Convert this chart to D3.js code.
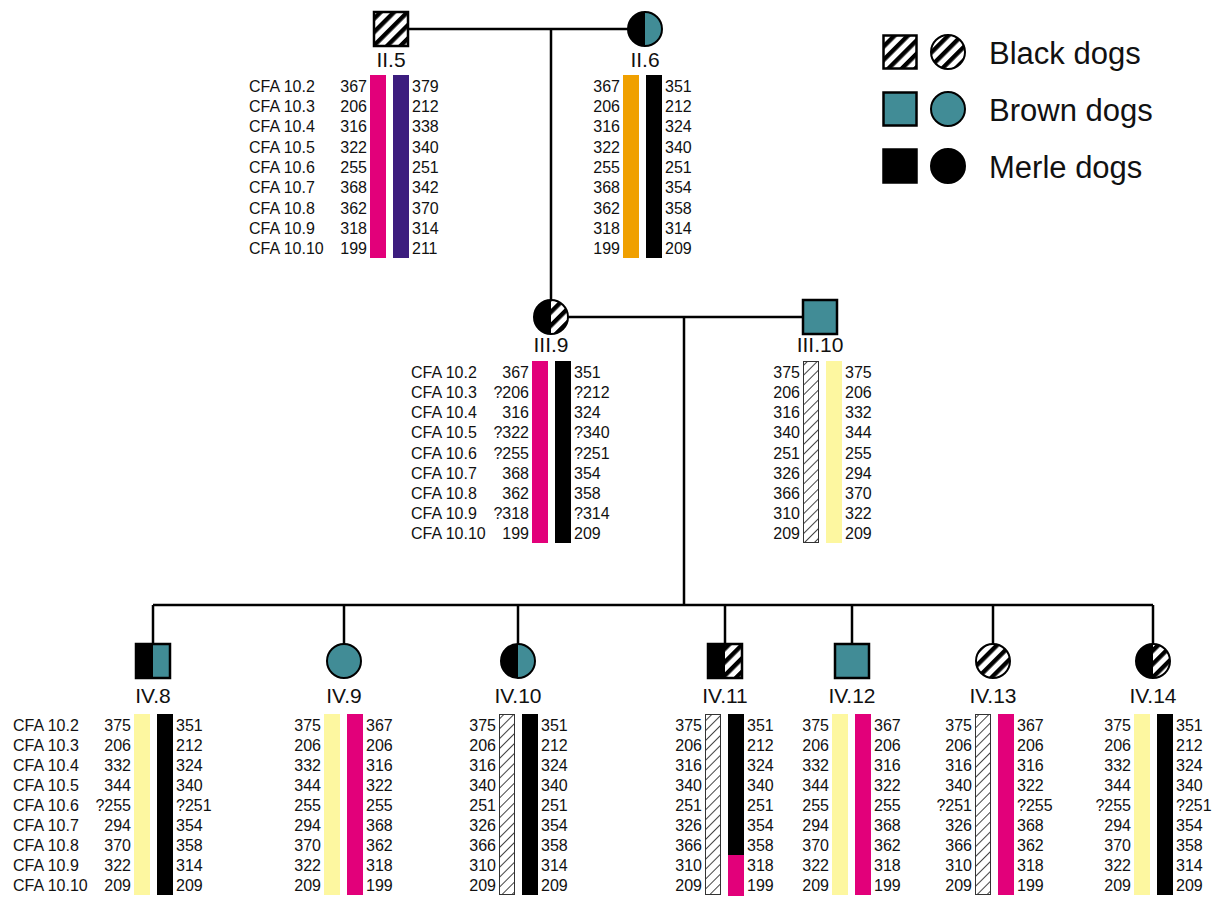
<!DOCTYPE html>
<html>
<head>
<meta charset="utf-8">
<script src="https://cdn.jsdelivr.net/npm/d3@7"></script>
<style>
  body { margin: 0; background: #fff; }
  text { font-family: Arial, "Liberation Sans", sans-serif; fill: #111; }
</style>
</head>
<body>
<script>
//------------------------------------- data -------------------------------------

var markers = ["CFA 10.2", "CFA 10.3", "CFA 10.4", "CFA 10.5", "CFA 10.6",
               "CFA 10.7", "CFA 10.8", "CFA 10.9", "CFA 10.10"];

var dogIds    = ["II.5", "II.6", "III.9", "III.10", "IV.8", "IV.9", "IV.10", "IV.11", "IV.12", "IV.13", "IV.14"];
var sexes     = ["m", "f", "f", "m", "m", "f", "f", "m", "m", "f", "f"];
var leftHalf  = ["hatch", "black", "black", "teal", "black", "teal", "black", "black", "teal", "hatch", "black"];
var rightHalf = ["hatch", "teal", "hatch", "teal", "teal", "teal", "teal", "hatch", "teal", "hatch", "hatch"];

// dogs that show the marker names on their left
var markerLabelDogs = ["II.5", "III.9", "IV.8"];

var leftAlleles = [
  ["367", "206", "316", "322", "255", "368", "362", "318", "199"],
  ["367", "206", "316", "322", "255", "368", "362", "318", "199"],
  ["367", "?206", "316", "?322", "?255", "368", "362", "?318", "199"],
  ["375", "206", "316", "340", "251", "326", "366", "310", "209"],
  ["375", "206", "332", "344", "?255", "294", "370", "322", "209"],
  ["375", "206", "332", "344", "255", "294", "370", "322", "209"],
  ["375", "206", "316", "340", "251", "326", "366", "310", "209"],
  ["375", "206", "316", "340", "251", "326", "366", "310", "209"],
  ["375", "206", "332", "344", "255", "294", "370", "322", "209"],
  ["375", "206", "316", "340", "?251", "326", "366", "310", "209"],
  ["375", "206", "332", "344", "?255", "294", "370", "322", "209"]
];
var rightAlleles = [
  ["379", "212", "338", "340", "251", "342", "370", "314", "211"],
  ["351", "212", "324", "340", "251", "354", "358", "314", "209"],
  ["351", "?212", "324", "?340", "?251", "354", "358", "?314", "209"],
  ["375", "206", "332", "344", "255", "294", "370", "322", "209"],
  ["351", "212", "324", "340", "?251", "354", "358", "314", "209"],
  ["367", "206", "316", "322", "255", "368", "362", "318", "199"],
  ["351", "212", "324", "340", "251", "354", "358", "314", "209"],
  ["351", "212", "324", "340", "251", "354", "358", "318", "199"],
  ["367", "206", "316", "322", "255", "368", "362", "318", "199"],
  ["367", "206", "316", "322", "?255", "368", "362", "318", "199"],
  ["351", "212", "324", "340", "?251", "354", "358", "314", "209"]
];

// haplotype origin of each bar (one per row when it changes along the bar)
var leftSource  = ["pink", "orange", "pink", "hatch", "yellow", "yellow", "hatch", "hatch", "yellow", "hatch", "yellow"];
var rightSource = ["purple", "black", "black", "yellow", "black", "pink", "black",
                   ["black", "black", "black", "black", "black", "black", "black", "pink", "pink"],
                   "pink", "pink", "black"];

var legendLabels = ["Black dogs", "Brown dogs", "Merle dogs"];
var legendFills  = ["hatch", "teal", "black"];

//------------------------------------- layout / style ---------------------------

var layout = {
  "II.5":  {x: 391,  gen: "II",  bar: 370},
  "II.6":  {x: 645,  gen: "II",  bar: 623},
  "III.9": {x: 551,  gen: "III", bar: 532},
  "III.10":{x: 820,  gen: "III", bar: 803},
  "IV.8":  {x: 153,  gen: "IV",  bar: 134},
  "IV.9":  {x: 344,  gen: "IV",  bar: 324},
  "IV.10": {x: 518,  gen: "IV",  bar: 499},
  "IV.11": {x: 725,  gen: "IV",  bar: 705},
  "IV.12": {x: 852,  gen: "IV",  bar: 832},
  "IV.13": {x: 993,  gen: "IV",  bar: 975},
  "IV.14": {x: 1153, gen: "IV",  bar: 1134}
};
var gens = {
  "II":  {y: 29,  label: 67,  rows: [75, 258]},
  "III": {y: 317, label: 352, rows: [361, 543]},
  "IV":  {y: 661, label: 703, rows: [714, 895]}
};

var colors = {
  pink: "#e2007a", purple: "#3c1d7e", orange: "#f0a000", black: "#000",
  yellow: "#fdf7a0", teal: "#418c96"
};

var half = 17, barW = 16, barGap = 7;

//------------------------------------- svg --------------------------------------

var svg = d3.select("body")
  .append("svg")
  .attr("width", 1218)
  .attr("height", 900);

var defs = svg.append("defs");

var ph = defs.append("pattern")
  .attr("id", "symHatch")
  .attr("patternUnits", "userSpaceOnUse")
  .attr("width", 9.5).attr("height", 9.5)
  .attr("patternTransform", "rotate(45)");
ph.append("rect").attr("width", 9.5).attr("height", 9.5).attr("fill", "#fff");
ph.append("rect").attr("width", 4.4).attr("height", 9.5).attr("fill", "#000");

var pb = defs.append("pattern")
  .attr("id", "barHatch")
  .attr("patternUnits", "userSpaceOnUse")
  .attr("width", 7).attr("height", 7)
  .attr("patternTransform", "rotate(45)");
pb.append("rect").attr("width", 7).attr("height", 7).attr("fill", "#fff");
pb.append("rect").attr("width", 1).attr("height", 7).attr("fill", "#444");

function fillOf(k, bar) {
  if (k === "hatch") return bar ? "url(#barHatch)" : "url(#symHatch)";
  return colors[k];
}

//------------------------------------- lines ------------------------------------

var lines = svg.append("g")
  .attr("stroke", "#000")
  .attr("stroke-width", 2.5)
  .attr("fill", "none");

function P(id) { return {x: layout[id].x, y: gens[layout[id].gen].y}; }

// II.5 x II.6
lines.append("line").attr("x1", P("II.5").x + half).attr("y1", P("II.5").y)
  .attr("x2", P("II.6").x - half).attr("y2", P("II.6").y);
lines.append("line").attr("x1", P("III.9").x).attr("y1", P("II.5").y)
  .attr("x2", P("III.9").x).attr("y2", P("III.9").y - half);

// III.9 x III.10
var sibY = 605, dropX = 684;
lines.append("line").attr("x1", P("III.9").x + half).attr("y1", P("III.9").y)
  .attr("x2", P("III.10").x - half).attr("y2", P("III.10").y);
lines.append("line").attr("x1", dropX).attr("y1", P("III.9").y)
  .attr("x2", dropX).attr("y2", sibY);

var kids = dogIds.filter(function(d) { return layout[d].gen === "IV"; });
lines.append("line")
  .attr("x1", P(kids[0]).x).attr("y1", sibY)
  .attr("x2", P(kids[kids.length - 1]).x).attr("y2", sibY);
lines.selectAll(".drop")
  .data(kids)
  .enter().append("line")
  .attr("class", "drop")
  .attr("x1", function(d) { return P(d).x; })
  .attr("x2", function(d) { return P(d).x; })
  .attr("y1", sibY)
  .attr("y2", function(d) { return P(d).y - half; });

//------------------------------------- symbols ----------------------------------

function drawSymbol(g, cx, cy, sex, lf, rf, r) {
  if (sex === "m") {
    g.append("rect").attr("x", cx - r).attr("y", cy - r).attr("width", r).attr("height", 2 * r)
      .attr("fill", fillOf(lf));
    g.append("rect").attr("x", cx).attr("y", cy - r).attr("width", r).attr("height", 2 * r)
      .attr("fill", fillOf(rf));
    g.append("rect").attr("x", cx - r).attr("y", cy - r).attr("width", 2 * r).attr("height", 2 * r)
      .attr("fill", "none").attr("stroke", "#000").attr("stroke-width", 2.5);
  } else {
    g.append("path")
      .attr("d", "M" + cx + "," + (cy - r) + " A" + r + "," + r + " 0 0 0 " + cx + "," + (cy + r) + " Z")
      .attr("fill", fillOf(lf));
    g.append("path")
      .attr("d", "M" + cx + "," + (cy - r) + " A" + r + "," + r + " 0 0 1 " + cx + "," + (cy + r) + " Z")
      .attr("fill", fillOf(rf));
    g.append("circle").attr("cx", cx).attr("cy", cy).attr("r", r)
      .attr("fill", "none").attr("stroke", "#000").attr("stroke-width", 2);
  }
}

function srcAt(src, k) { return Array.isArray(src) ? src[k] : src; }

dogIds.forEach(function(id, i) {
  var p = P(id), gen = gens[layout[id].gen];
  var g = svg.append("g").attr("class", "dog");

  drawSymbol(g, p.x, p.y, sexes[i], leftHalf[i], rightHalf[i], half);

  g.append("text")
    .attr("x", p.x).attr("y", gen.label)
    .attr("text-anchor", "middle")
    .style("font-size", "21px")
    .text(id);

  // rows of the haplotype table
  var y = d3.scaleBand().domain(markers).range(gen.rows).padding(0);
  var bw = y.bandwidth();
  var x0 = layout[id].bar, x1 = x0 + barW + barGap;

  [[x0, leftSource[i]], [x1, rightSource[i]]].forEach(function(b) {
    var segs = g.append("g").attr("shape-rendering", "crispEdges");
    // base bar in the first source, then rows whose source differs
    segs.append("rect")
      .attr("x", b[0]).attr("y", gen.rows[0])
      .attr("width", barW).attr("height", gen.rows[1] - gen.rows[0])
      .attr("fill", fillOf(srcAt(b[1], 0), true));
    segs.selectAll(".seg")
      .data(markers.filter(function(m, k) { return srcAt(b[1], k) !== srcAt(b[1], 0); }))
      .enter().append("rect")
      .attr("class", "seg")
      .attr("x", b[0])
      .attr("y", function(m) { return y(m); })
      .attr("width", barW)
      .attr("height", bw + 1)
      .attr("fill", function(m) { return fillOf(srcAt(b[1], markers.indexOf(m)), true); });
    if (srcAt(b[1], 0) === "hatch") {
      segs.append("rect")
        .attr("x", b[0] + 0.5).attr("y", gen.rows[0] + 0.5)
        .attr("width", barW - 1).attr("height", gen.rows[1] - gen.rows[0] - 1)
        .attr("fill", "none").attr("stroke", "#333").attr("stroke-width", 1.2);
    }
  });

  g.append("g").selectAll("text")
    .data(leftAlleles[i])
    .enter().append("text")
    .attr("x", x0 - 3)
    .attr("y", function(d, k) { return y(markers[k]) + bw / 2 + 6.5; })
    .attr("text-anchor", "end")
    .style("font-size", "16px")
    .text(function(d) { return d; });

  g.append("g").selectAll("text")
    .data(rightAlleles[i])
    .enter().append("text")
    .attr("x", x1 + barW + 3)
    .attr("y", function(d, k) { return y(markers[k]) + bw / 2 + 6.5; })
    .style("font-size", "16px")
    .text(function(d) { return d; });

  if (markerLabelDogs.indexOf(id) >= 0) {
    g.append("g").selectAll("text")
      .data(markers)
      .enter().append("text")
      .attr("x", x0 - 121)
      .attr("y", function(m) { return y(m) + bw / 2 + 6.5; })
      .style("font-size", "16px")
      .text(function(m) { return m; });
  }
});

//------------------------------------- legend -----------------------------------

var ly = d3.scalePoint().domain(legendLabels).range([52, 166]);
var legend = svg.append("g").attr("class", "legend");

legendLabels.forEach(function(lab, i) {
  var cy = ly(lab);
  drawSymbol(legend, 900, cy, "m", legendFills[i], legendFills[i], 16.5);
  drawSymbol(legend, 948, cy, "f", legendFills[i], legendFills[i], 17);
  legend.append("text")
    .attr("x", 989).attr("y", cy + 12)
    .style("font-size", "31px")
    .text(lab);
});
</script>
</body>
</html>
